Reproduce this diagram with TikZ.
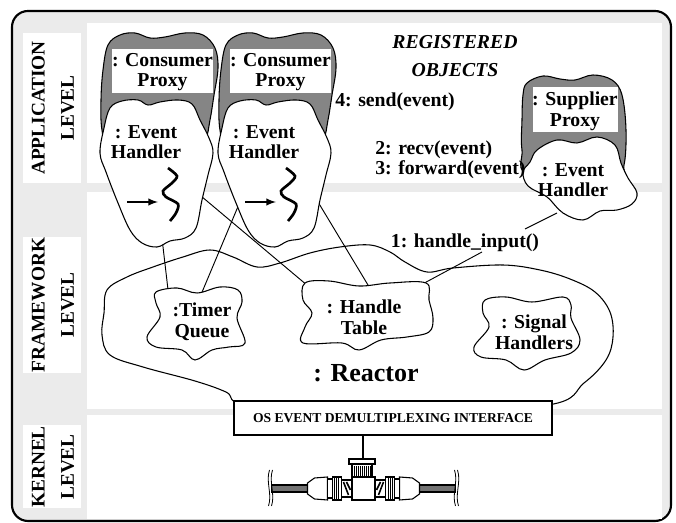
\documentclass[tikz,border=0pt]{standalone}
\usepackage{fontspec}
\setmainfont{Liberation Serif}
\usepackage{tikz}
\definecolor{framegray}{HTML}{EBEBEB}
\definecolor{proxygray}{HTML}{858585}

\begin{document}
\begin{tikzpicture}[x=0.75pt,y=-0.75pt,
    blob/.style={draw,fill=white,line width=0.8pt},
    proxyblob/.style={draw,fill=proxygray,line width=0.8pt},
    link/.style={line width=0.7pt},
    objtext/.style={font=\fontsize{14.8}{15.5}\selectfont\bfseries,align=center,inner sep=0pt},
    leveltext/.style={font=\fontsize{14.5}{22}\selectfont\bfseries,align=center,inner sep=0pt,rotate=90},
    part/.style={draw,fill=white,line width=0.8pt}]
  \useasboundingbox (0,0) rectangle (676,523);

  % frame and the three levels
  \draw[line width=1.6pt,fill=framegray,rounded corners=12pt] (12,11) rectangle (671,521);
  \fill[white] (87,23) rectangle (662,183);
  \fill[white] (87,192) rectangle (662,409);
  \fill[white] (87,415) rectangle (662,519);
  \fill[white] (23,33) rectangle (81,183);
  \fill[white] (23,237) rectangle (81,373);
  \fill[white] (23,425) rectangle (81,508);
  \node[leveltext] (applevel) at (53,108) {APPLICATION\\LEVEL};
  \node[leveltext] (fwlevel) at (53,305) {FRAMEWORK\\LEVEL};
  \node[leveltext] (kernlevel) at (53,467) {KERNEL\\LEVEL};

  % reactor
  \draw[blob] plot[smooth cycle,tension=0.6] coordinates {(107,290) (127,277) (153,267) (183,257)
    (210,250) (233,257) (257,267) (280,263) (310,253) (340,247) (370,245) (390,252) (405,262)
    (427,272) (453,268) (503,265) (540,270) (570,279) (595,292) (610,312) (613,337) (606,360)
    (584,383) (548,405) (400,412) (252,406) (226,392) (195,381) (143,367) (110,355) (102,335) (104,313)};
  \node[objtext,font=\fontsize{19.5}{22}\selectfont\bfseries] (reactor) at (366,373) {: Reactor};

  % connector ends
  \coordinate (ehLbot) at (161.5,234);
  \coordinate (ehLside) at (198,193.5);
  \coordinate (ehRside) at (242,197);
  \coordinate (ehRright) at (315,197);
  \coordinate (tqA) at (168.5,294);
  \coordinate (tqB) at (200,297);
  \coordinate (htA) at (311,288.5);
  \coordinate (htB) at (371,290);
  \coordinate (htC) at (417,287);
  \coordinate (hinA) at (482,252);
  \coordinate (hinB) at (525,229);
  \coordinate (sehbot) at (557,213);

  \draw[link] (ehLbot) -- (tqA);
  \draw[link] (ehLside) -- (htA);
  \draw[link] (ehRside) -- (tqB);
  \draw[link] (ehRright) -- (htB);
  \draw[link] (htC) -- (hinA);
  \draw[link] (hinB) -- (sehbot);

  % reactor parts
  \draw[blob] plot[smooth cycle,tension=0.6] coordinates {(156,292) (177,288) (197,293) (220,287)
    (238,290) (242,302) (237,318) (245,343) (229,347) (212,350) (195,360) (182,350) (156,347)
    (147,337) (160,317) (156,303)};
  \node[objtext] (tq) at (202,322) {:Timer\\Queue};
  \draw[blob] plot[smooth cycle,tension=0.6] coordinates {(305,283) (329,281) (359,286) (390,283)
    (426,283) (429,300) (433,318) (429,332) (407,337) (381,340) (359,350) (342,343) (303,343)
    (305,327) (312,313) (303,300)};
  \node[objtext] (ht) at (364,317) {: Handle\\Table};
  \draw[blob] plot[smooth cycle,tension=0.6] coordinates {(485,300) (506,297) (532,302) (563,297)
    (571,305) (571,318) (580,340) (571,353) (545,360) (524,370) (506,360) (481,357) (474,347)
    (489,327) (483,313)};
  \node[objtext] (sh) at (534,332) {: Signal\\Handlers};

  % consumer proxies
  \foreach \dx/\u in {0/L,118/R}{
    \begin{scope}[shift={(\dx,0)}]
      \draw[proxyblob] plot[smooth cycle,tension=0.6] coordinates {(108,45) (120,35) (135,33)
        (150,38) (165,37) (185,33) (203,35) (215,48) (218,68) (214,95) (210,120) (205,140)
        (190,150) (150,150) (110,150) (102,130) (101,100) (103,70)};
      \fill[white] (112,49) rectangle (213,93);
      \node[objtext] (cp\u) at (162.5,72) {: Consumer\\Proxy};
      \draw[blob] plot[smooth cycle,tension=0.6] coordinates {(110,108) (122,101) (138,100)
        (148,105) (160,102) (178,100) (192,104) (200,120) (209,138) (213,153) (208,175)
        (202,200) (196,228) (185,238) (170,241) (157,247) (142,243) (130,230) (118,203)
        (106,172) (100,153) (104,128)};
      \node[objtext] (eh\u) at (146,142) {: Event\\Handler};
      \draw[line width=2pt] plot[smooth] coordinates {(168,168) (177,176) (172,183) (163,191)
        (166,197) (178,204) (176,213) (170,221)};
      \draw[line width=1.5pt,-latex] (127,202) -- (158,202);
    \end{scope}
  }

  % supplier proxy
  \draw[proxyblob] plot[smooth cycle,tension=0.6] coordinates {(527,83) (543,76) (560,79) (575,80)
    (593,75) (612,80) (622,95) (626,130) (624,165) (615,175) (530,175) (522,150) (522,120) (523,95)};
  \fill[white] (533,87) rectangle (618,132);
  \node[objtext] (sp) at (575,111) {: Supplier\\Proxy};
  \draw[blob] plot[smooth cycle,tension=0.6] coordinates {(537,150) (557,140) (577,143) (597,137)
    (615,145) (621,163) (628,178) (637,193) (632,204) (617,210) (600,211) (583,220) (563,213)
    (547,197) (528,186) (523,172) (530,162)};
  \node[objtext] (seh) at (573,180) {: Event\\Handler};

  % messages
  \node[objtext,font=\fontsize{14.8}{21}\selectfont\bfseries\itshape] (regobj) at (455,56) {REGISTERED\\OBJECTS};
  \node[objtext,anchor=west] (send) at (335,102) {4: send(event)};
  \node[objtext,anchor=west,align=left,font=\fontsize{14.8}{15}\selectfont\bfseries] (recvfwd) at (375,160) {2: recv(event)\\3: forward(event)};
  \node[objtext] (hinput) at (465,243) {1: handle\_input()};

  % OS interface and the BNC tee
  \node[draw,fill=white,line width=1.5pt,minimum width=238pt,minimum height=26pt,inner sep=0pt,
    font=\fontsize{10.2}{12}\selectfont\bfseries] (os) at (393,418) {OS EVENT DEMULTIPLEXING INTERFACE};
  \coordinate (bnctop) at (363,460);
  \draw[line width=1.5pt] (os.south -| bnctop) -- (bnctop);
  \foreach \s in {1,-1}{
    \begin{scope}[shift={(363.5,0)},xscale=\s]
      \draw[line width=0.8pt,fill=black!55] (-92,485) rectangle (-56,492);
      \draw[line width=0.6pt] (-94,470) .. controls (-98,482) and (-91,494) .. (-95,506);
      \draw[line width=0.6pt] (-91,470) .. controls (-95,482) and (-88,494) .. (-92,506);
      \draw[part] (-56,483) -- (-49,478) -- (-36,477) -- (-36,500) -- (-49,499) -- (-56,494) -- cycle;
      \draw[part] (-36,479) rectangle (-31,498);
      \draw[part] (-31,477) rectangle (-22,500);
      \foreach \k in {-29,-27,-25} \draw[line width=0.6pt] (\k,477) -- (\k,500);
      \draw[part] (-22,480) rectangle (-12,497);
      \draw[line width=1.2pt] (-20,482) -- (-15,495) (-17,482) -- (-13,490);
    \end{scope}
  }
  \draw[part] (352,477) rectangle (375,500);
  \draw[part] (352,464) rectangle (372,477);
  \foreach \k in {354,356,...,370} \draw[line width=0.6pt] (\k,466) -- (\k,477);
  \draw[part] (349,459) rectangle (375,464);
\end{tikzpicture}
\end{document}
